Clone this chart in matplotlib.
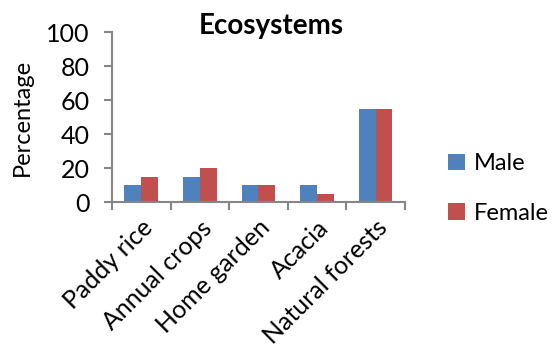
import numpy as np
import matplotlib.pyplot as plt

# Share of respondents by ecosystem type
categories = ['Paddy rice', 'Annual crops', 'Home garden', 'Acacia', 'Natural forests']
male = [10, 15, 10, 10, 55]
female = [15, 20, 10, 5, 55]

plt.rcParams['font.family'] = ['Lato', 'DejaVu Sans']

fig = plt.figure(figsize=(5.57, 3.49), dpi=100)
ax = fig.add_axes([0.201, 0.421, 0.526, 0.487])

x = np.arange(len(categories))
width = 0.286
ax.bar(x - width / 2, male, width, color='#4F81BD', label='Male')
ax.bar(x + width / 2, female, width, color='#C0504D', label='Female')

ax.set_xlim(-0.5, len(categories) - 0.5)
ax.set_ylim(0, 100)
ax.set_yticks(range(0, 101, 20))

# category boundaries as tick marks, labels centred under each group
ax.set_xticks(np.arange(-0.5, len(categories), 1.0))
ax.set_xticklabels([])
ax.set_xticks(x, minor=True)
ax.set_xticklabels(categories, minor=True, rotation=45, ha='right',
                   rotation_mode='anchor', fontsize=18)
ax.tick_params(axis='x', which='minor', length=0, pad=10)
ax.tick_params(axis='x', which='major', length=6, width=1.5, color='#868686')
ax.tick_params(axis='y', length=6, width=1.5, color='#868686', labelsize=18, pad=10)

for side in ['top', 'right']:
    ax.spines[side].set_visible(False)
for side in ['left', 'bottom']:
    ax.spines[side].set_color('#868686')
    ax.spines[side].set_linewidth(1.5)

ax.set_ylabel('Percentage', fontsize=17)
ax.yaxis.set_label_coords(-0.27, 0.5)
fig.text(0.487, 0.925, 'Ecosystems', fontsize=20, fontweight='bold',
         ha='center', va='center')

ax.legend(loc='center left', bbox_to_anchor=(1.075, 0.08), frameon=False,
          fontsize=17, handlelength=0.7, handleheight=0.7, labelspacing=1.2,
          handletextpad=0.4)

fig.savefig('out.png', dpi=100)
